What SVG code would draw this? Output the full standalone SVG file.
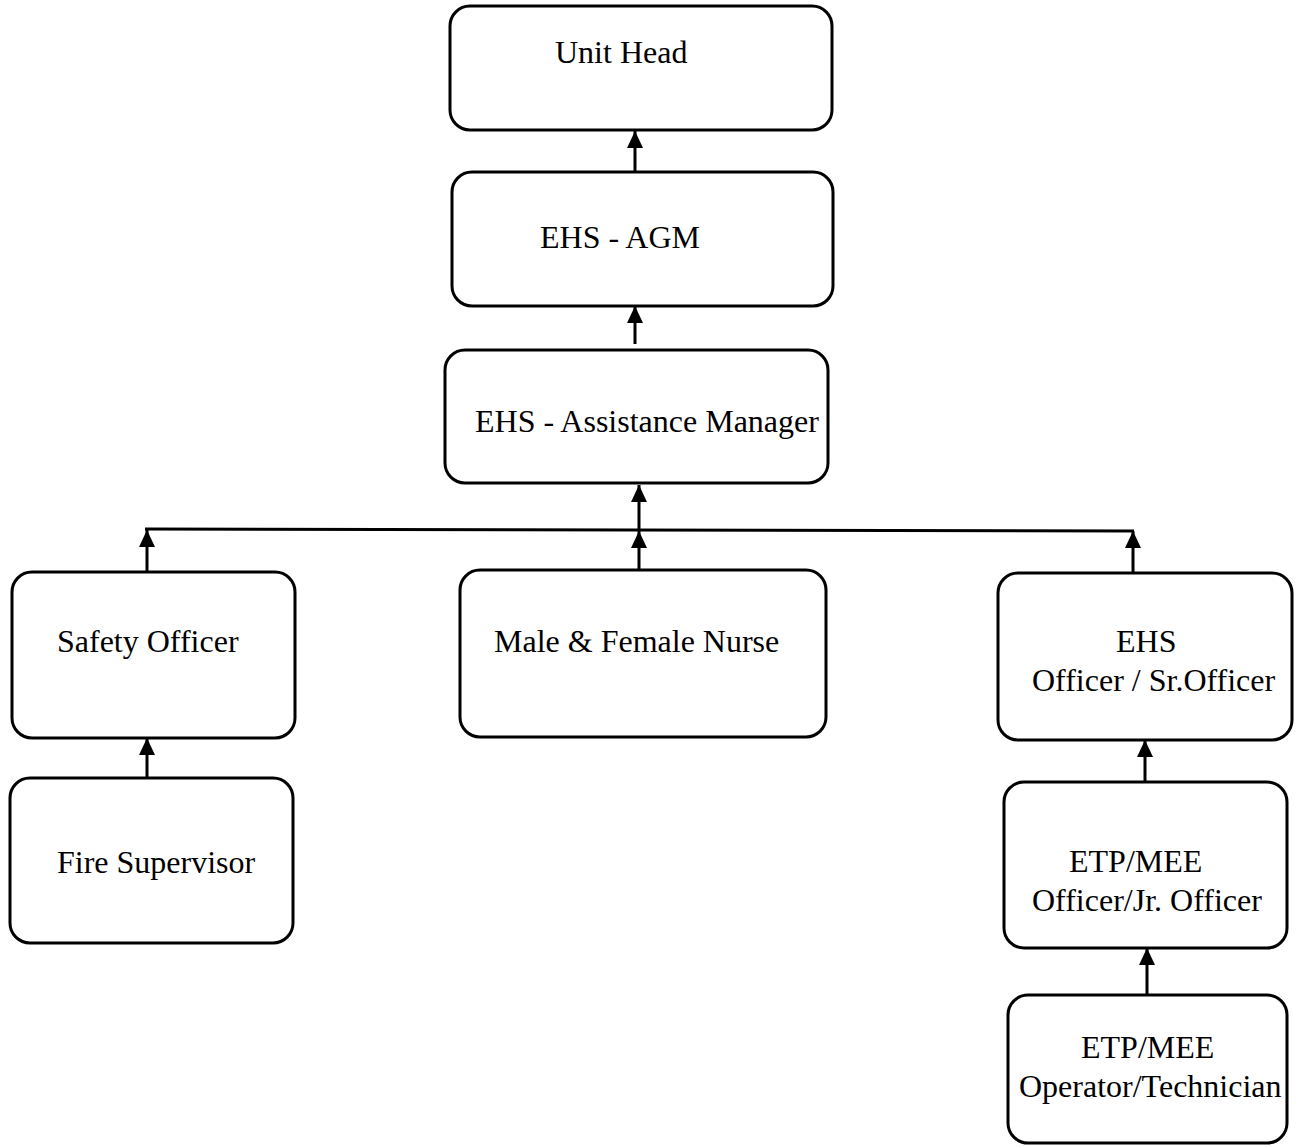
<svg xmlns="http://www.w3.org/2000/svg" width="1297" height="1147" viewBox="0 0 1297 1147">
<style>
.box{fill:#fff;stroke:#000;stroke-width:3}
.t{font-family:"Liberation Serif","Times New Roman",serif;font-size:32px;fill:#000}
.c{stroke:#000;stroke-width:3;fill:none}
</style>
<defs>
<marker id="ah" markerUnits="userSpaceOnUse" markerWidth="17" markerHeight="18" viewBox="0 0 17 18" refX="17" refY="8" orient="auto">
<path d="M0,0 L17,8 L0,16 Z" fill="#000"/>
</marker>
</defs>
<rect width="1297" height="1147" fill="#fff"/>
<g id="connectors">
<line class="c" x1="635" y1="172" x2="635" y2="131" marker-end="url(#ah)"/>
<line class="c" x1="635" y1="344" x2="635" y2="306" marker-end="url(#ah)"/>
<line class="c" x1="639" y1="529" x2="639" y2="485" marker-end="url(#ah)"/>
<line class="c" x1="145" y1="529" x2="1134" y2="531"/>
<line class="c" x1="147" y1="572" x2="147" y2="530" marker-end="url(#ah)"/>
<line class="c" x1="639" y1="570" x2="639" y2="531" marker-end="url(#ah)"/>
<line class="c" x1="1133" y1="573" x2="1133" y2="531" marker-end="url(#ah)"/>
<line class="c" x1="147" y1="778" x2="147" y2="738" marker-end="url(#ah)"/>
<line class="c" x1="1145" y1="782" x2="1145" y2="740" marker-end="url(#ah)"/>
<line class="c" x1="1147" y1="995" x2="1147" y2="948" marker-end="url(#ah)"/>
</g>
<g id="unit-head"><rect class="box" x="450" y="6" width="382" height="124" rx="20"/><text class="t" x="555" y="63">Unit Head</text></g>
<g id="ehs-agm"><rect class="box" x="452" y="172" width="381" height="134" rx="20"/><text class="t" x="540" y="248">EHS - AGM</text></g>
<g id="ehs-asst"><rect class="box" x="445" y="350" width="383" height="133" rx="20"/><text class="t" x="475" y="432">EHS - Assistance Manager</text></g>
<g id="safety-officer"><rect class="box" x="12" y="572" width="283" height="166" rx="20"/><text class="t" x="57" y="652">Safety Officer</text></g>
<g id="nurse"><rect class="box" x="460" y="570" width="366" height="167" rx="20"/><text class="t" x="494" y="652">Male &amp; Female Nurse</text></g>
<g id="ehs-officer"><rect class="box" x="998" y="573" width="294" height="167" rx="20"/><text class="t" x="1116" y="652">EHS</text><text class="t" x="1032" y="691">Officer / Sr.Officer</text></g>
<g id="fire-supervisor"><rect class="box" x="10" y="778" width="283" height="165" rx="20"/><text class="t" x="57" y="873">Fire Supervisor</text></g>
<g id="etp-officer"><rect class="box" x="1004" y="782" width="283" height="166" rx="20"/><text class="t" x="1069" y="872">ETP/MEE</text><text class="t" x="1032" y="911">Officer/Jr. Officer</text></g>
<g id="etp-operator"><rect class="box" x="1008" y="995" width="279" height="148" rx="20"/><text class="t" x="1081" y="1058">ETP/MEE</text><text class="t" x="1019" y="1097">Operator/Technician</text></g>
</svg>
